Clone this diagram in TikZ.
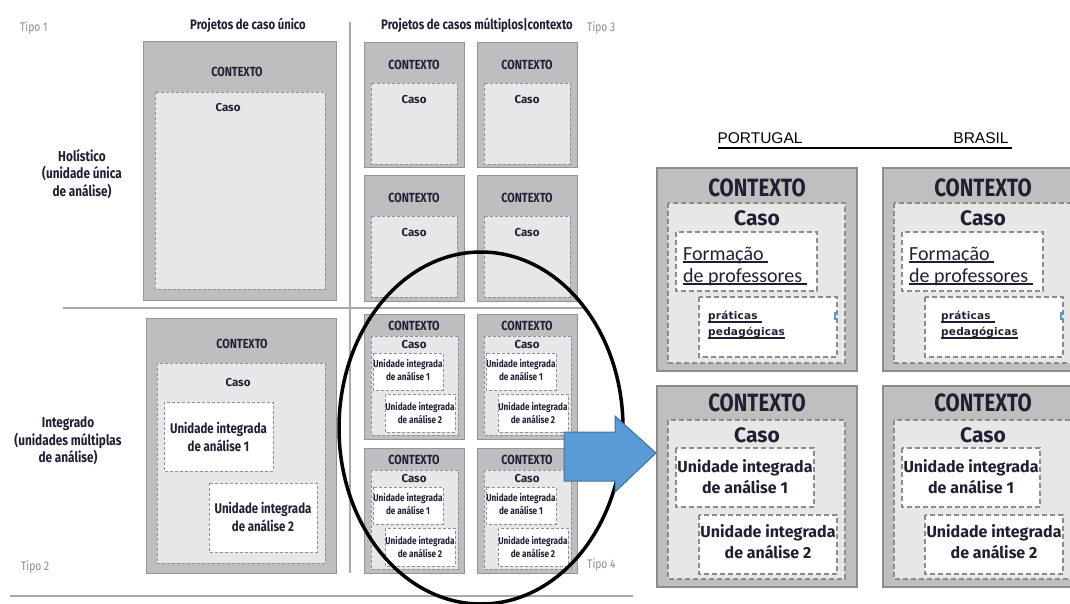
\documentclass[tikz,border=0pt]{standalone}
\usepackage{fontspec}
\setmainfont{Fira Sans}
\newfontfamily\cnd[FakeStretch=0.82]{Fira Sans}
\newfontfamily\crl{Carlito}
\newfontfamily\pratf[LetterSpace=2]{DejaVu Sans}
\newfontfamily\lib{Liberation Sans}
\newcommand\myul[1]{\setbox0\hbox{#1}\rlap{\rule[-2.8pt]{\wd0}{1.4pt}}\box0}
\definecolor{ctxfill}{HTML}{BCBEC0}
\definecolor{ctxline}{HTML}{939598}
\definecolor{casofill}{HTML}{E6E7E8}
\definecolor{dashline}{HTML}{8F9194}
\definecolor{txt}{HTML}{231F33}
\definecolor{tipogray}{HTML}{8A8C8F}
\definecolor{rule}{HTML}{A7A9AC}
\definecolor{rctxfill}{HTML}{BFBFBF}
\definecolor{rctxline}{HTML}{8C8C8C}
\definecolor{rcasofill}{HTML}{E7E7E7}
\definecolor{arrfill}{HTML}{5B9BD5}
\definecolor{arrline}{HTML}{41719C}
\begin{document}
\begin{tikzpicture}[x=1pt,y=-1pt,
  ctx/.style={fill=ctxfill, draw=ctxline, line width=1pt},
  caso/.style={fill=casofill, draw=dashline, dash pattern=on 3pt off 2pt, line width=0.8pt},
  unit/.style={fill=white, draw=dashline, dash pattern=on 3pt off 2pt, line width=0.8pt},
  rctx/.style={fill=rctxfill, draw=rctxline, line width=1.8pt},
  rcaso/.style={fill=rcasofill, draw=rctxline, dash pattern=on 5pt off 3pt, line width=1.2pt},
  runitbox/.style={fill=white, draw=rctxline, dash pattern=on 5pt off 3pt, line width=1.2pt},
  rule/.style={draw=rule, line width=1.2pt},
  ttl/.style={font=\cnd\bfseries\fontsize{13.8}{16}\selectfont, text=txt, inner sep=0pt},
  lbl/.style={font=\cnd\bfseries\fontsize{13.2}{15}\selectfont, text=txt, inner sep=0pt},
  caslbl/.style={font=\bfseries\fontsize{11.5}{13}\selectfont, text=txt, inner sep=0pt},
  side/.style={font=\cnd\bfseries\fontsize{14.4}{17.5}\selectfont, align=center, text=txt, inner sep=0pt},
  tipo/.style={font=\cnd\fontsize{12.5}{14}\selectfont, text=tipogray, inner sep=0pt, anchor=west},
  ubig/.style={font=\cnd\bfseries\fontsize{14}{18}\selectfont, align=center, text=txt, inner sep=0pt},
  usm/.style={font=\cnd\bfseries\fontsize{10}{13}\selectfont, align=center, text=txt, inner sep=0pt},
  rctxlbl/.style={font=\cnd\bfseries\fontsize{25}{27}\selectfont, text=txt, inner sep=0pt},
  rcasolbl/.style={font=\bfseries\fontsize{21}{24}\selectfont, text=txt, inner sep=0pt},
  runit/.style={font=\bfseries\fontsize{16}{21}\selectfont, align=center, text=txt, inner sep=0pt},
  form/.style={font=\crl\fontsize{20}{22}\selectfont, align=left, text=txt, inner sep=0pt, anchor=west},
  prat/.style={font=\pratf\bfseries\fontsize{10.5}{16}\selectfont, align=left, text=txt, inner sep=0pt, anchor=west},
  country/.style={font=\lib\fontsize{15.5}{17}\selectfont, text=black, inner sep=0pt},
  arrowshape/.style={fill=arrfill, draw=arrline, line width=1pt}
]
\useasboundingbox (0,0) rectangle (1070,604);
\clip (0,0) rectangle (1070,604);

% ---------- left figure: rules ----------
\coordinate (vtop) at (350,22);
\coordinate (vbot) at (350,573);
\coordinate (hl) at (63,308);
\coordinate (hr) at (585,308);
\coordinate (bl) at (10,596);
\coordinate (br) at (633,596);
\draw[rule] (vtop) -- (vbot);
\draw[rule] (hl) -- (hr);
\draw[rule] (bl) -- (br);

% headings and tipo labels
\node[ttl] (t1) at (248,25) {Projetos de caso único};
\node[ttl] (t2) at (477,25) {Projetos de casos múltiplos|contexto};
\node[tipo] (tipo1) at (20,28) {Tipo 1};
\node[tipo] (tipo3) at (587,28) {Tipo 3};
\node[tipo] (tipo2) at (21,567) {Tipo 2};
\node[tipo] (tipo4) at (587,565) {Tipo 4};
\node[side] (hol) at (82,174) {Holístico\\(unidade única\\de análise)};
\node[side] (integ) at (68,441) {Integrado\\(unidades múltiplas\\de análise)};

% ---------- single case holistic ----------
\draw[ctx] (143,42) rectangle (336,300);
\draw[caso] (155,92) rectangle (325,289);
\node[lbl] (c1ctx) at (237,72) {CONTEXTO};
\node[caslbl] (c1caso) at (228,108) {Caso};

% ---------- single case integrated ----------
\draw[ctx] (146,318) rectangle (336,573);
\draw[caso] (157,363) rectangle (325,563);
\draw[unit] (164,402) rectangle (273,471);
\draw[unit] (209,483) rectangle (317,552);
\node[lbl] (c2ctx) at (242,344) {CONTEXTO};
\node[caslbl] (c2caso) at (238,383) {Caso};
\node[ubig] (c2u1) at (218.5,436.5) {Unidade integrada\\de análise 1};
\node[ubig] (c2u2) at (263,517) {Unidade integrada\\de análise 2};

% ---------- multiple holistic ----------
\foreach \x in {364,477}{
  \foreach \y in {43,176}{
    \draw[ctx] (\x,\y) rectangle (\x+100,\y+125);
    \draw[caso] (\x+7,\y+40) rectangle (\x+93,\y+121);
    \node[lbl] (mh-ctx-\x-\y) at (\x+50,\y+22) {CONTEXTO};
    \node[caslbl] (mh-caso-\x-\y) at (\x+50,\y+57) {Caso};
  }
}

% ---------- multiple integrated ----------
\foreach \x in {364,477}{
  \foreach \y in {314,448}{
    \draw[ctx] (\x,\y) rectangle (\x+100,\y+125);
    \draw[caso] (\x+7,\y+22) rectangle (\x+94,\y+121);
    \draw[unit] (\x+9,\y+39) rectangle (\x+79,\y+76);
    \draw[unit] (\x+21,\y+80) rectangle (\x+91,\y+118);
    \node[lbl] (mi-ctx-\x-\y) at (\x+50,\y+12) {CONTEXTO};
    \node[caslbl] (mi-caso-\x-\y) at (\x+50,\y+31) {Caso};
    \node[usm] (mi-u1-\x-\y) at (\x+44,\y+56.5) {Unidade integrada\\de análise 1};
    \node[usm] (mi-u2-\x-\y) at (\x+56,\y+99) {Unidade integrada\\de análise 2};
  }
}

% ---------- ellipse and arrow ----------
\draw[line width=3.5pt] (481,428) ellipse [x radius=142, y radius=176];
\coordinate (a1) at (564,432);
\coordinate (a2) at (615,432);
\coordinate (a3) at (615,416);
\coordinate (a4) at (656,453);
\coordinate (a5) at (615,492);
\coordinate (a6) at (615,481);
\coordinate (a7) at (564,481);
\draw[arrowshape] (a1) -- (a2) -- (a3) -- (a4) -- (a5) -- (a6) -- (a7) -- cycle;

% ---------- right figure ----------
\node[country] (pt) at (760,138) {PORTUGAL};
\node[country] (bra) at (981,138) {BRASIL};
\coordinate (ul1) at (718,148);
\coordinate (ul2) at (1012,148);
\draw[line width=1.5pt] (ul1) -- (ul2);

\foreach \d/\px in {0/708, 226/941}{
  % top
  \draw[rctx] (657+\d,168) rectangle (857+\d,371);
  \draw[rcaso] (668+\d,203) rectangle (845+\d,363);
  \draw[runitbox] (676+\d,232) rectangle (817+\d,291);
  \draw[runitbox] (699+\d,297) rectangle (837+\d,357);
  \draw[draw=arrfill, line width=1.5pt] (835+\d,312) -- (835+\d,320);
  \node[rctxlbl] (rt-ctx-\d) at (757+\d,188) {CONTEXTO};
  \node[rcasolbl] (rt-caso-\d) at (757+\d,218) {Caso};
  \node[form] (rt-form-\d) at (683+\d,266) {\myul{Formação\ }\\\myul{de professores\ }};
  \node[prat] (rt-prat-\d) at (\px,325) {\myul{práticas\ }\\\myul{pedagógicas}};
  % bottom
  \draw[rctx] (657+\d,386) rectangle (857+\d,587);
  \draw[rcaso] (668+\d,420) rectangle (845+\d,579);
  \draw[runitbox] (676+\d,448) rectangle (814+\d,507);
  \draw[runitbox] (699+\d,515) rectangle (837+\d,574);
  \node[rctxlbl] (rb-ctx-\d) at (757+\d,403) {CONTEXTO};
  \node[rcasolbl] (rb-caso-\d) at (757+\d,435) {Caso};
  \node[runit] (rb-u1-\d) at (745+\d,476.5) {Unidade integrada\\de análise 1};
  \node[runit] (rb-u2-\d) at (768+\d,542) {Unidade integrada\\de análise 2};
}
\end{tikzpicture}
\end{document}
